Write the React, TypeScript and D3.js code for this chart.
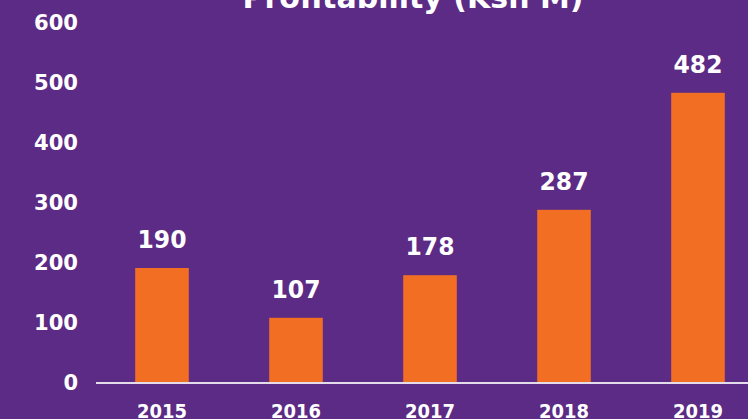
import React from 'react';
import * as d3 from 'd3';

// chart data
const years = ['2015', '2016', '2017', '2018', '2019'];
const profit = [190, 107, 178, 287, 482];
const yTicks = [0, 100, 200, 300, 400, 500, 600];
const title = 'Profitability (Ksh M)';

const App = () => {
  const width = 748;
  const height = 419;
  const bg = '#5c2b85';
  const barColor = '#f26e22';
  const font = "'DejaVu Sans', sans-serif";

  const x = d3.scaleBand()
    .domain(years)
    .range([95, 765])
    .paddingInner(0.6)
    .paddingOuter(0.3);

  const y = d3.scaleLinear()
    .domain([0, 600])
    .range([382, 22]);

  return (
    <svg
      width={width}
      height={height}
      style={{ position: 'absolute', left: 0, top: 0, display: 'block' }}
    >
      <rect x={0} y={0} width={width} height={height} fill={bg} />

      {/* title, cut at the top edge like the source image */}
      <text x={413} y={8} textAnchor="middle" fill="#fff"
        fontFamily={font} fontWeight="bold" fontSize={30}>
        {title}
      </text>

      {/* y axis labels */}
      {yTicks.map(t => (
        <text key={t} x={78} y={y(t)} dy="0.36em" textAnchor="end"
          fill="#fff" fontFamily={font} fontWeight="bold" fontSize={21}
          textLength={t === 0 ? undefined : 44} lengthAdjust="spacingAndGlyphs">
          {t}
        </text>
      ))}

      {/* bars */}
      {profit.map((v, i) => (
        <rect key={years[i]}
          x={x(years[i])}
          y={y(v)}
          width={x.bandwidth()}
          height={y(0) - y(v)}
          fill={barColor} />
      ))}

      {/* value labels */}
      {profit.map((v, i) => (
        <text key={'v' + i}
          x={(x(years[i]) || 0) + x.bandwidth() / 2}
          y={y(v) - 20}
          textAnchor="middle" fill="#fff"
          fontFamily={font} fontWeight="bold" fontSize={25}
          textLength={49} lengthAdjust="spacingAndGlyphs">
          {v}
        </text>
      ))}

      {/* baseline */}
      <line x1={96} x2={width} y1={y(0) + 1} y2={y(0) + 1}
        stroke="#e4dcea" strokeWidth={2} />

      {/* x labels, touching the bottom edge */}
      {years.map(yr => (
        <text key={yr}
          x={(x(yr) || 0) + x.bandwidth() / 2}
          y={418}
          textAnchor="middle" fill="#fff"
          fontFamily={font} fontWeight="bold" fontSize={20}
          textLength={50} lengthAdjust="spacingAndGlyphs">
          {yr}
        </text>
      ))}
    </svg>
  );
};

export default App;
